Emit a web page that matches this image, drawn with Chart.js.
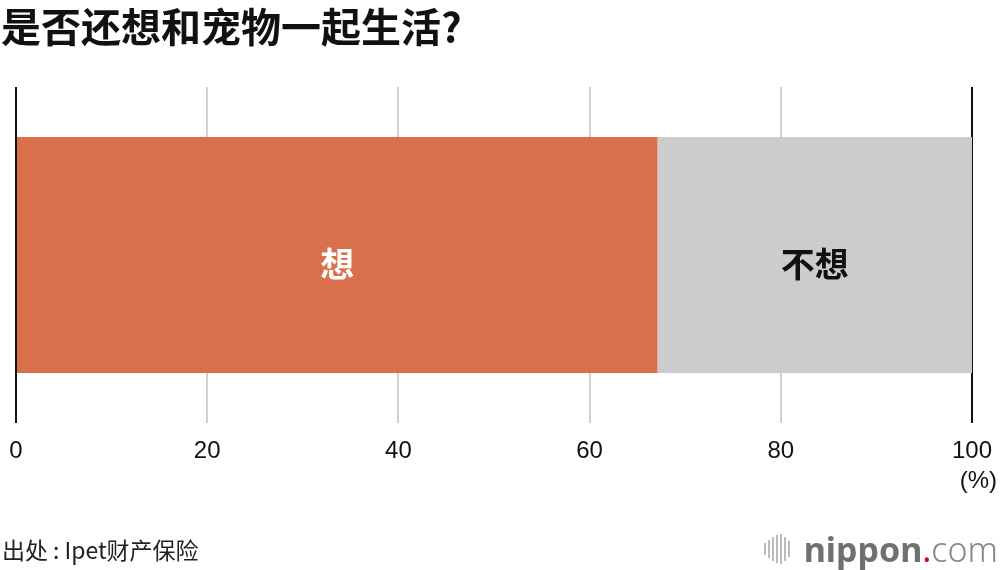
<!DOCTYPE html>
<html lang="zh">
<head>
<meta charset="UTF-8">
<title>是否还想和宠物一起生活?</title>
<style>
  * { box-sizing: border-box; margin: 0; padding: 0; }
  html, body { width: 1000px; height: 570px; background: #fff; overflow: hidden; }
  #wrap { position: relative; width: 1000px; height: 570px; }
  #chart { position: absolute; left: 0; top: 0; }
  .title {
    position: absolute; left: 1px; top: -4px;
    font-family: "Noto Sans CJK SC", sans-serif; font-weight: 700;
    font-size: 40px; color: #111; white-space: nowrap;
  }
  .unit {
    position: absolute; right: 3px; top: 466px;
    font-family: "Liberation Sans", Arial, sans-serif; font-size: 24px; color: #111;
  }
  .source {
    position: absolute; left: 2px; top: 532px;
    font-family: "Noto Sans CJK SC", sans-serif; font-size: 23px; color: #222;
  }
  .source .colon { margin: 0 5px; }
  .logo {
    position: absolute; right: 2px; top: 526px; display: flex; align-items: center;
    font-family: "Noto Sans", sans-serif; font-size: 34px; color: #707070;
  }
  .logo .bars { display: flex; align-items: center; margin-right: 12px; height: 30px; }
  .logo .bars span { display: block; width: 2px; background: #bbb; margin-right: 2px; }
  .logo b { font-weight: 700; }
  .logo .dot { color: #e60012; }
  .logo .com { font-weight: 300; color: #888; }
</style>
</head>
<body>
<div id="wrap">
  <canvas id="chart" width="1000" height="570"></canvas>
  <div class="title">是否还想和宠物一起生活?</div>
  <div class="unit">(%)</div>
  <div class="source">出处<span class="colon">:</span>Ipet财产保险</div>
  <div class="logo">
    <div class="bars">
      <span style="height:12px"></span><span style="height:18px"></span><span style="height:24px"></span>
      <span style="height:28px"></span><span style="height:30px"></span><span style="height:24px"></span>
      <span style="height:16px"></span>
    </div>
    <b>nippon</b><span class="dot">.</span><span class="com">com</span>
  </div>
</div>

<script src="https://cdn.jsdelivr.net/npm/chart.js@4.4.0/dist/chart.umd.min.js"></script>
<script>
const category = ['是否还想和宠物一起生活'];
const answers = ['想', '不想'];
const wantValues = [67.1];
const notWantValues = [32.9];
const xTicks = [0, 20, 40, 60, 80, 100];

// write each answer in the middle of its bar piece
const barLabels = {
  id: 'barLabels',
  afterDatasetsDraw(chart) {
    const ctx = chart.ctx;
    ctx.save();
    ctx.font = 'bold 34px "Noto Sans CJK SC", sans-serif';
    ctx.textAlign = 'center';
    ctx.textBaseline = 'middle';
    chart.data.datasets.forEach((ds, i) => {
      chart.getDatasetMeta(i).data.forEach(bar => {
        const p = bar.getProps(['x', 'y', 'base'], true);
        ctx.fillStyle = ds.labelColor;
        ctx.fillText(ds.label, (p.x + p.base) / 2, p.y + 9);
      });
    });
    ctx.restore();
  }
};

new Chart(document.getElementById('chart'), {
  type: 'bar',
  data: {
    labels: category,
    datasets: [
      { label: answers[0], data: wantValues, backgroundColor: '#d7704b', labelColor: '#fff' },
      { label: answers[1], data: notWantValues, backgroundColor: '#cccccc', labelColor: '#111' }
    ]
  },
  options: {
    indexAxis: 'y',
    responsive: false,
    animation: false,
    events: [],
    layout: { padding: { left: 16, right: 28, top: 87, bottom: 103 } },
    datasets: { bar: { barPercentage: 0.702, categoryPercentage: 1, borderWidth: 0 } },
    plugins: { legend: { display: false }, tooltip: { enabled: false }, title: { display: false } },
    scales: {
      x: {
        stacked: true,
        min: 0, max: 100,
        afterBuildTicks: s => { s.ticks = xTicks.map(v => ({ value: v })); },
        afterFit: s => { s.height = 44; s.paddingLeft = 0; s.paddingRight = 0; },
        grid: {
          drawTicks: false,
          lineWidth: 2,
          color: c => (c.tick && (c.tick.value === 0 || c.tick.value === 100)) ? '#111' : '#d0d0d0'
        },
        border: { display: false },
        ticks: {
          padding: 14,
          color: '#111',
          font: { family: '"Liberation Sans", Arial, sans-serif', size: 24 },
          maxRotation: 0
        }
      },
      y: { stacked: true, display: false }
    }
  },
  plugins: [barLabels]
});
</script>
</body>
</html>
